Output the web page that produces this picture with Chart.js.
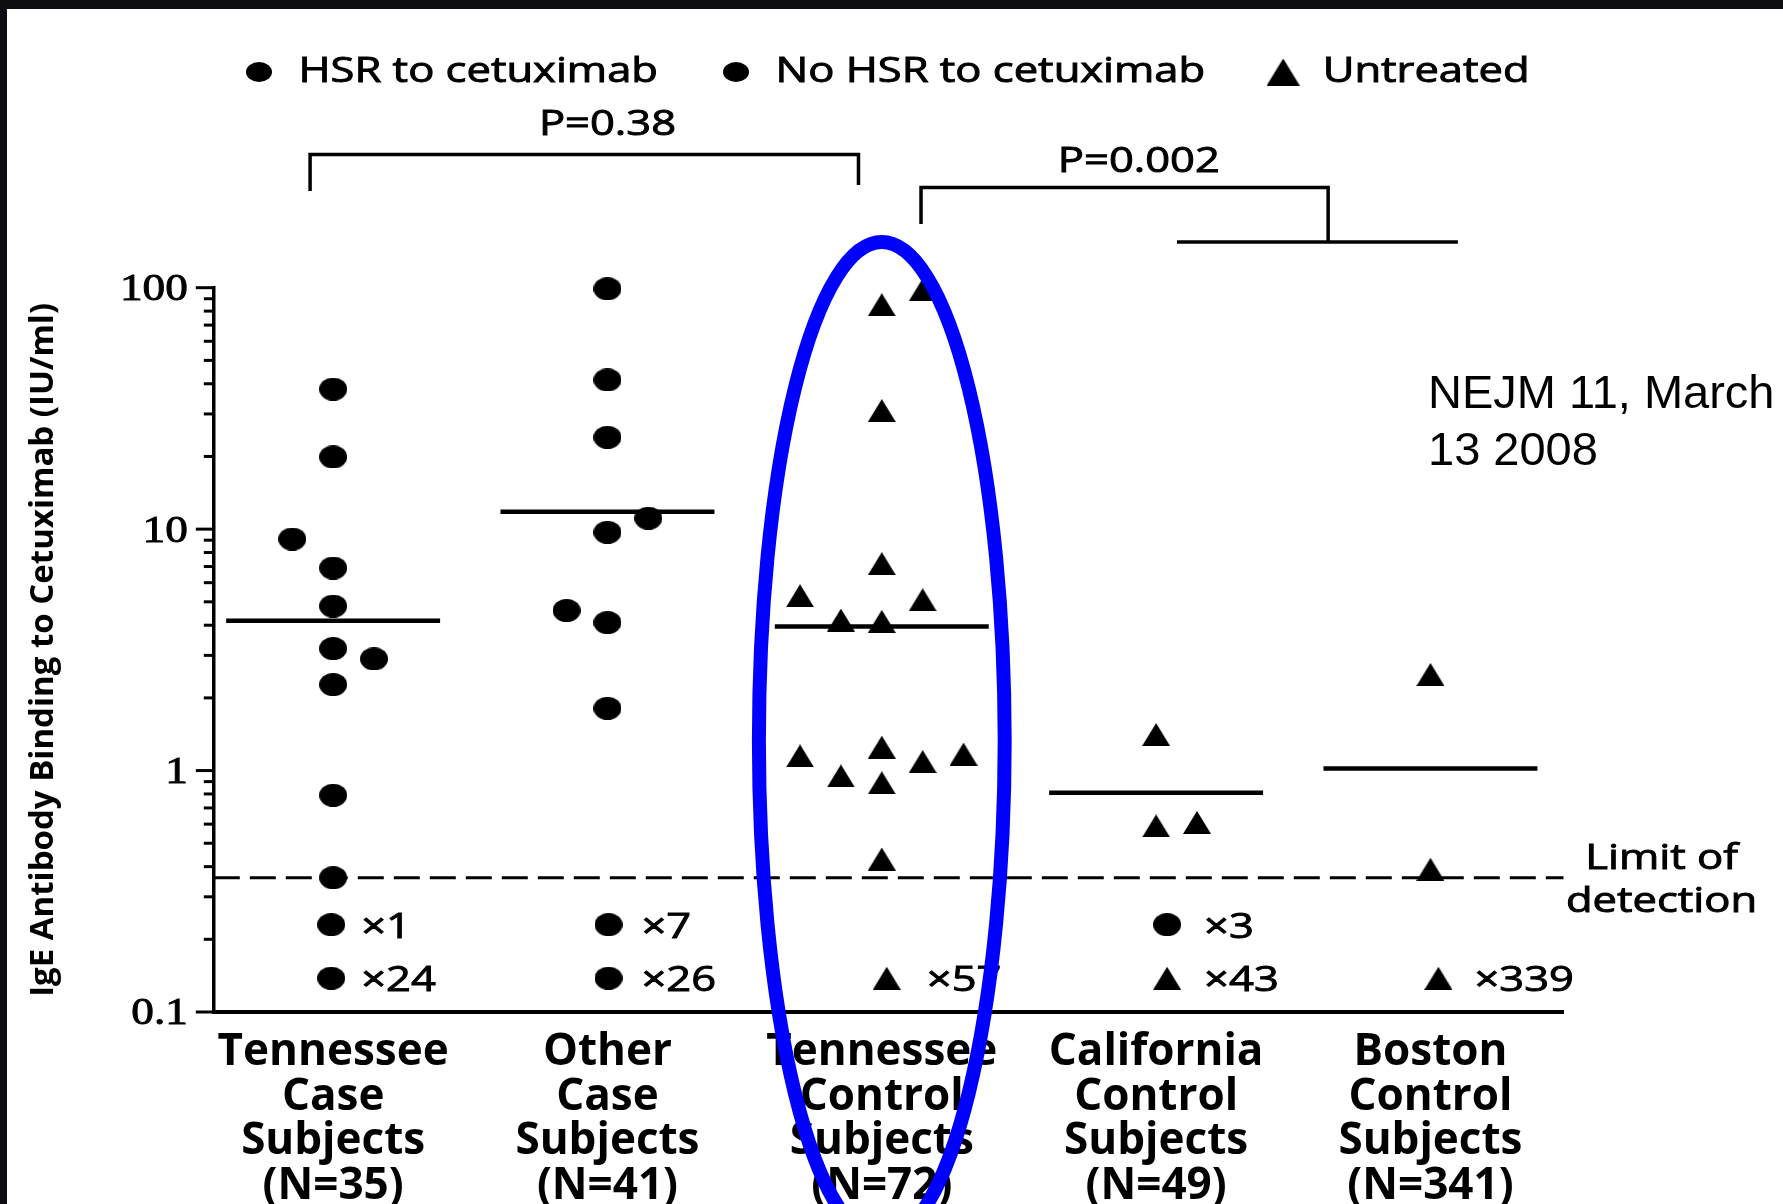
<!DOCTYPE html>
<html lang="en">
<head>
<meta charset="utf-8">
<title>IgE Antibody Binding to Cetuximab</title>
<script src="https://cdn.jsdelivr.net/npm/chart.js@4.4.1/dist/chart.umd.min.js"></script>
<style>
    html, body {
        margin: 0;
        padding: 0;
        background: #0e0d12;
        overflow: hidden;
    }
    .figure_div {
        position: absolute;
        left: 7px;
        top: 9px;
        width: 1776px;
        height: 1195px;
        background: #ffffff;
    }
    #ige_chart {
        display: block;
    }
</style>
</head>
<body>
<div class="figure_div">
    <canvas id="ige_chart" width="1776" height="1195"></canvas>
</div>
<script>
//values (IU/ml)
const categoryLabels = [
    ['Tennessee', 'Case', 'Subjects', '(N=35)'],
    ['Other', 'Case', 'Subjects', '(N=41)'],
    ['Tennessee', 'Control', 'Subjects', '(N=72)'],
    ['California', 'Control', 'Subjects', '(N=49)'],
    ['Boston', 'Control', 'Subjects', '(N=341)']
];
const tnCaseValues = [38, 19.9, 9.1, 6.9, 4.8, 3.2, 2.9, 2.27, 0.79, 0.36];
const otherCaseValues = [99, 41.5, 24, 11.1, 9.7, 4.6, 4.1, 1.81];
const tnControlValues = [85, 98, 31, 7.2, 5.3, 5.1, 4.2, 4.15, 1.15, 0.95, 1.25, 0.89, 1.09, 1.17, 0.43];
const californiaValues = [1.41, 0.59, 0.61];
const bostonValues = [2.5, 0.39];
const medianValues = [4.17, 11.8, 3.95, 0.81, 1.02];
const detectionLimit = 0.36;
const countsUpperRow = [1, 7, null, 3, null];
const countsLowerRow = [24, 26, 57, 43, 339];
const yTickValues = [0.1, 1, 10, 100];
const yTickLabels = ['0.1', '1', '10', '100'];
const legendLabels = ['HSR to cetuximab', 'No HSR to cetuximab', 'Untreated'];
const pValueLabels = ['P=0.38', 'P=0.002'];
const detectionLabelLines = ['Limit of', 'detection'];
const yAxisTitle = 'IgE Antibody Binding to Cetuximab (IU/ml)';
const noteLines = ['NEJM 11, March', '13 2008'];
//

//layout: jitter column of every point, marker shapes of the count rows
const jitterStep = 0.149;
const tnCaseSlots = [0, 0, -1, 0, 0, 0, 1, 0, 0, 0];
const otherCaseSlots = [0, 0, 0, 1, 0, -1, 0, 0];
const tnControlSlots = [0, 1, 0, 0, -2, 1, -1, 0, -2, -1, 0, 0, 1, 2, 0];
const californiaSlots = [0, 0, 1];
const bostonSlots = [0, 0];
const upperRowShapes = ['circle', 'circle', null, 'circle', null];
const lowerRowShapes = ['circle', 'circle', 'triangle', 'triangle', 'triangle'];
const countRowLevels = [0.23, 0.138];
const countMarkerShift = [-0.007, 0.004, 0.018, 0.04, 0.029];
const countTextShift = [28, 34, 45, 48, 44];
const medianHalfWidth = 0.39;
const xMin = 0.565;
const xMax = 5.485;

const textStretch = 1.28;
const textDrop = 3.5;
const regularFont = '34px "Open Sans"';
const serifFont = '38px "Liberation Serif"';
const serifStretch = 1.19;
//

//filled marker images (the figure is slightly wider than tall)
const makeMarker = (shape, w, h) => {
    const c = document.createElement('canvas');
    c.width = w;
    c.height = h;
    const g = c.getContext('2d');
    g.fillStyle = '#000';
    g.beginPath();
    if (shape === 'triangle') {
        g.moveTo(w / 2, 0);
        g.lineTo(w, h);
        g.lineTo(0, h);
        g.closePath();
    } else {
        g.ellipse(w / 2, h / 2, w / 2, h / 2, 0, 0, Math.PI * 2);
    }
    g.fill();
    return c;
};

const circleMarker = makeMarker('circle', 28, 23);
const triangleMarker = makeMarker('triangle', 28, 23);
const legendCircle = makeMarker('circle', 26, 20);
const legendTriangle = makeMarker('triangle', 33, 27);
//

//build points from the arrays
const toPoints = (values, slots, category) =>
    values.map((v, i) => ({ x: category + slots[i] * jitterStep, y: v }));

const casePoints = [
    ...toPoints(tnCaseValues, tnCaseSlots, 1),
    ...toPoints(otherCaseValues, otherCaseSlots, 2)
];
const untreatedPoints = [
    ...toPoints(tnControlValues, tnControlSlots, 3),
    ...toPoints(californiaValues, californiaSlots, 4),
    ...toPoints(bostonValues, bostonSlots, 5)
];

const countPoints = [];
[countsUpperRow, countsLowerRow].forEach((row, r) => {
    const shapes = r === 0 ? upperRowShapes : lowerRowShapes;
    row.forEach((count, i) => {
        if (count === null) return;
        countPoints.push({
            x: i + 1 + countMarkerShift[i],
            y: countRowLevels[r],
            count: count,
            category: i + 1,
            shape: shapes[i]
        });
    });
});

const medianDatasets = medianValues.map((m, i) => ({
    label: 'Median',
    data: [{ x: i + 1 - medianHalfWidth, y: m }, { x: i + 1 + medianHalfWidth, y: m }],
    showLine: true,
    borderColor: '#000',
    borderWidth: 4.5,
    pointRadius: 0,
    clip: false
}));

const yAxisTicks = [];
yTickValues.forEach((v, i) => {
    yAxisTicks.push({ value: v, major: true });
    if (i < yTickValues.length - 1) {
        for (let k = 2; k <= 9; k++) yAxisTicks.push({ value: v * k, major: false });
    }
});
yAxisTicks.sort((a, b) => a.value - b.value);
//

//text is drawn a little wider than the font, like the scanned figure
const drawStretchedText = (ctx, text, x, y, align, font, stretch = textStretch) => {
    ctx.save();
    ctx.translate(x, y + textDrop);
    ctx.scale(stretch, 1);
    ctx.font = font;
    ctx.textAlign = align;
    ctx.textBaseline = 'middle';
    ctx.fillStyle = '#000';
    ctx.strokeStyle = '#000';
    ctx.lineWidth = 0.9;
    ctx.fillText(text, 0, 0);
    ctx.strokeText(text, 0, 0);
    ctx.restore();
};

const stretchedWidth = (ctx, text, font) => {
    ctx.save();
    ctx.font = font;
    const w = ctx.measureText(text).width * textStretch;
    ctx.restore();
    return w;
};

const strokePath = (ctx, points, width) => {
    ctx.save();
    ctx.strokeStyle = '#000';
    ctx.lineWidth = width;
    ctx.beginPath();
    points.forEach(([px, py], i) => (i ? ctx.lineTo(px, py) : ctx.moveTo(px, py)));
    ctx.stroke();
    ctx.restore();
};

//legend, brackets, tick marks, count labels, note and the blue ring
const figureExtras = {
    id: 'figureExtras',
    afterDraw(chart) {
        const { ctx, chartArea, scales: { x, y } } = chart;

        //y ticks: long at decades, short in between
        y.ticks.forEach(tick => {
            const py = y.getPixelForValue(tick.value);
            strokePath(ctx, [[chartArea.left, py], [chartArea.left - (tick.major ? 18 : 10), py]], 3);
            if (tick.label) drawStretchedText(ctx, tick.label, chartArea.left - 26, py - 1, 'right', serifFont, serifStretch);
        });

        //legend row
        const legendY = 63;
        let cursor = 252;
        legendLabels.forEach((label, i) => {
            const marker = i === 2 ? legendTriangle : legendCircle;
            ctx.drawImage(marker, cursor - marker.width / 2, legendY - marker.height / 2);
            const textX = cursor + 39.5;
            drawStretchedText(ctx, label, textX, legendY - 3, 'left', regularFont);
            cursor = textX + stretchedWidth(ctx, label, regularFont) + 78;
        });

        //P value brackets
        const bx = v => x.getPixelForValue(v);
        strokePath(ctx, [[bx(0.916), 182], [bx(0.916), 145.5], [bx(2.915), 145.5], [bx(2.915), 176]], 3.5);
        drawStretchedText(ctx, pValueLabels[0], bx(2.0), 113, 'center', regularFont);

        strokePath(ctx, [[bx(3.143), 215], [bx(3.143), 178.6], [bx(4.627), 178.6], [bx(4.627), 233]], 3.5);
        strokePath(ctx, [[bx(4.076), 233], [bx(5.1), 233]], 3.5);
        drawStretchedText(ctx, pValueLabels[1], bx(3.937), 150, 'center', regularFont);

        //counts below the limit of detection
        const countIndex = chart.data.datasets.findIndex(d => d.label === 'Below limit of detection');
        const countMeta = chart.getDatasetMeta(countIndex);
        countMeta.data.forEach((el, j) => {
            const raw = chart.data.datasets[countIndex].data[j];
            const tx = x.getPixelForValue(raw.category) + countTextShift[raw.category - 1];
            drawStretchedText(ctx, '\u00d7' + raw.count, tx, el.y, 'left', regularFont);
        });

        //limit of detection label
        const lodY = y.getPixelForValue(detectionLimit);
        drawStretchedText(ctx, detectionLabelLines[0], chartArea.right + 98, lodY - 22, 'center', regularFont);
        drawStretchedText(ctx, detectionLabelLines[1], chartArea.right + 98, lodY + 21, 'center', regularFont);

        //note added on the slide
        ctx.save();
        ctx.font = '47px "Liberation Sans"';
        ctx.fillStyle = '#000';
        ctx.textAlign = 'left';
        ctx.textBaseline = 'alphabetic';
        ctx.fillText(noteLines[0], 1421, 399);
        ctx.fillText(noteLines[1], 1421, 456);
        ctx.restore();

        //blue ring around the Tennessee control subjects
        const decade = y.getPixelForValue(1) - y.getPixelForValue(10);
        const unit = x.getPixelForValue(2) - x.getPixelForValue(1);
        ctx.save();
        ctx.strokeStyle = 'rgb(0, 0, 255)';
        ctx.lineWidth = 14;
        ctx.beginPath();
        ctx.ellipse(x.getPixelForValue(3), y.getPixelForValue(1.33), 0.448 * unit, 2.065 * decade, 0, 0, Math.PI * 2);
        ctx.stroke();
        ctx.restore();
    }
};
//

new Chart(document.getElementById('ige_chart'), {
    type: 'scatter',
    data: {
        datasets: [
            {
                label: legendLabels[0],
                data: casePoints,
                pointStyle: circleMarker,
                pointRadius: 12,
                clip: false
            },
            {
                label: legendLabels[2],
                data: untreatedPoints,
                pointStyle: triangleMarker,
                pointRadius: 12,
                clip: false
            },
            {
                label: 'Below limit of detection',
                data: countPoints,
                pointStyle: ctx => (ctx.raw && ctx.raw.shape === 'triangle' ? triangleMarker : circleMarker),
                pointRadius: 12,
                clip: false
            },
            ...medianDatasets,
            {
                label: 'Limit of detection',
                data: [{ x: xMin, y: detectionLimit }, { x: xMax, y: detectionLimit }],
                showLine: true,
                borderColor: '#000',
                borderWidth: 3,
                borderDash: [26, 10],
                pointRadius: 0,
                clip: false
            }
        ]
    },
    options: {
        responsive: false,
        animation: false,
        events: [],
        layout: {
            autoPadding: false,
            padding: { top: 278.7, right: 219.5, bottom: 0, left: 0 }
        },
        plugins: {
            legend: { display: false },
            tooltip: { enabled: false }
        },
        scales: {
            x: {
                type: 'linear',
                min: xMin,
                max: xMax,
                afterBuildTicks: axis => {
                    axis.ticks = categoryLabels.map((l, i) => ({ value: i + 1 }));
                },
                afterFit: axis => {
                    axis.height = 192;
                },
                grid: { display: false, drawTicks: false },
                border: { display: true, color: '#000', width: 4 },
                ticks: {
                    autoSkip: false,
                    maxRotation: 0,
                    minRotation: 0,
                    padding: 18,
                    color: '#000',
                    font: { family: "'Open Sans', sans-serif", weight: 'bold', size: 44, lineHeight: 1.016 },
                    callback: value => categoryLabels[value - 1] || ''
                }
            },
            y: {
                type: 'logarithmic',
                min: 0.1,
                max: 100,
                afterBuildTicks: axis => {
                    axis.ticks = yAxisTicks.map(t => ({ value: t.value, major: t.major }));
                },
                afterFit: axis => {
                    axis.width = 206.8;
                },
                grid: { display: false, drawTicks: false },
                border: { display: true, color: '#000', width: 3.5 },
                ticks: {
                    display: false,
                    callback: (value, index, ticks) =>
                        ticks[index].major ? yTickLabels[yTickValues.indexOf(value)] : ''
                },
                title: {
                    display: true,
                    text: yAxisTitle,
                    color: '#000',
                    font: { family: "'Open Sans', sans-serif", weight: 'bold', size: 33 },
                    padding: { top: 16.4, bottom: 0 }
                }
            }
        }
    },
    plugins: [figureExtras]
});
</script>
</body>
</html>
